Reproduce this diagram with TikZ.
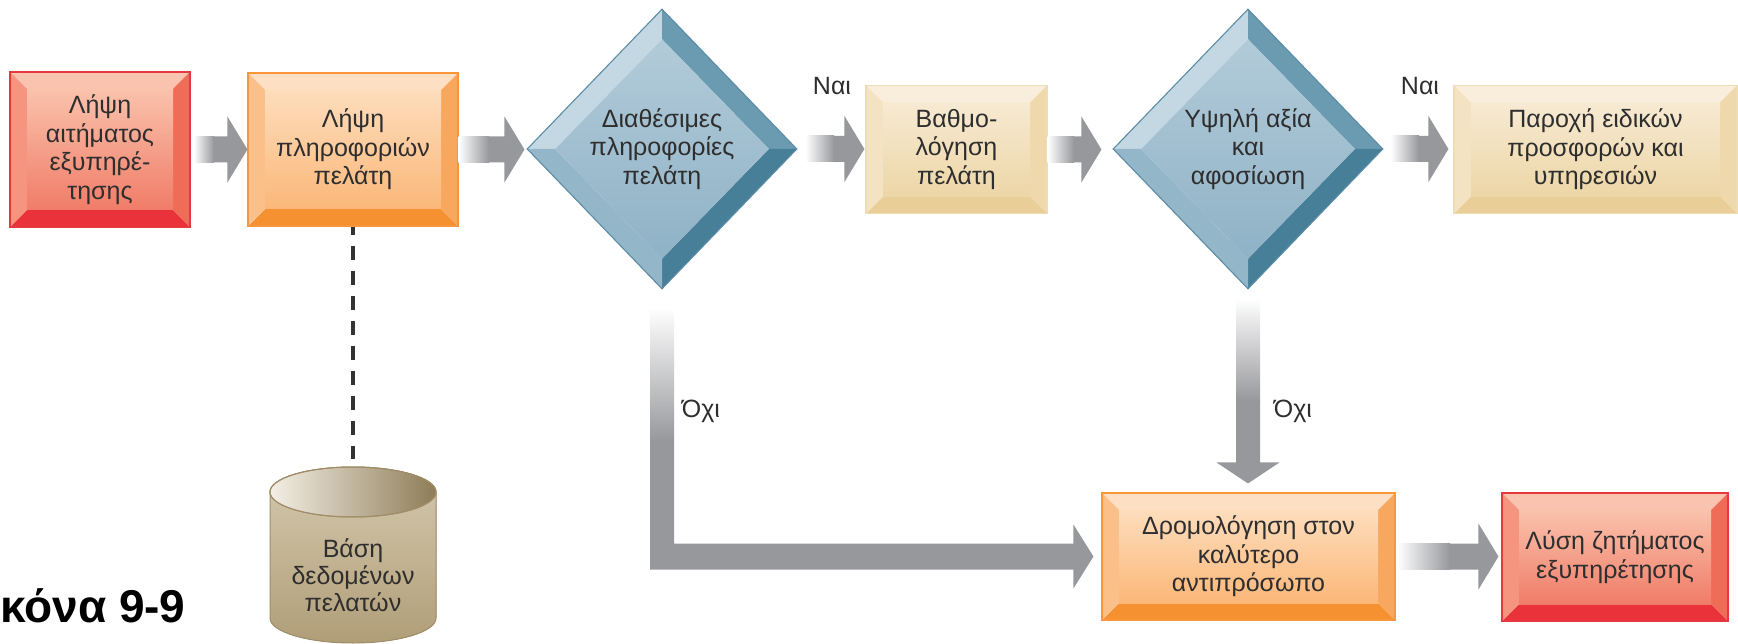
\documentclass[tikz,border=0pt]{standalone}
\usepackage{fontspec}
\setmainfont{Liberation Sans}
\usetikzlibrary{shapes.geometric,calc}

\definecolor{txt}{HTML}{2E2E2E}
\definecolor{agray}{HTML}{97989C}
\definecolor{dashc}{HTML}{333333}
% red palette
\definecolor{palRtop}{HTML}{F9C3AF}
\definecolor{palRbot}{HTML}{E9323A}
\definecolor{palRleft}{HTML}{F5957F}
\definecolor{palRright}{HTML}{EF6C57}
\definecolor{palRft}{HTML}{FAC2AC}
\definecolor{palRfb}{HTML}{F07C68}
\definecolor{palRbd}{HTML}{E8383F}
% orange palette
\definecolor{palOtop}{HTML}{FDE0C4}
\definecolor{palObot}{HTML}{F59131}
\definecolor{palOleft}{HTML}{FBC08A}
\definecolor{palOright}{HTML}{F8A75E}
\definecolor{palOft}{HTML}{FDDDBC}
\definecolor{palOfb}{HTML}{FBB779}
\definecolor{palObd}{HTML}{F7963B}
% tan palette
\definecolor{palTtop}{HTML}{F8EEDB}
\definecolor{palTbot}{HTML}{E9CF97}
\definecolor{palTleft}{HTML}{F3E3C2}
\definecolor{palTright}{HTML}{EFD9AC}
\definecolor{palTft}{HTML}{F7EAD3}
\definecolor{palTfb}{HTML}{EDD6A6}
\definecolor{palTbd}{HTML}{EEDCB5}
% diamond palette
\definecolor{dTL}{HTML}{C4D8E3}
\definecolor{dBL}{HTML}{93B6C9}
\definecolor{dTR}{HTML}{6B9BB1}
\definecolor{dBR}{HTML}{487F98}
\definecolor{dFT}{HTML}{B2CBD9}
\definecolor{dFB}{HTML}{8FB2C6}
\definecolor{dBD}{HTML}{5B8CA5}
% cylinder
\definecolor{cylL}{HTML}{F3EFE6}
\definecolor{cylR}{HTML}{8E7C56}
\definecolor{cylT}{HTML}{D5C9AE}
\definecolor{cylB}{HTML}{B09E78}
\definecolor{cylBd}{HTML}{A08D68}

\newcommand{\boxfont}{\fontsize{25pt}{28.5pt}\selectfont}

% horizontal block arrow: from node, to node, start gap, tip gap, fade length
\newcommand{\harr}[5]{%
  \path (#1.east) coordinate (hs) (#2.west) coordinate (ht);
  \shade[left color=white, right color=agray] let \p1=(hs), \p2=(ht) in
    (\x1+#3,\y1-13pt) rectangle (\x1+#3+#5+0.6pt,\y1+13pt);
  \fill[agray] let \p1=(hs), \p2=(ht) in
    (\x1+#3+#5,\y1-13pt) -- (\x2-#4-20pt,\y1-13pt) -- (\x2-#4-20pt,\y1-33pt)
    -- (\x2-#4,\y1) -- (\x2-#4-20pt,\y1+33pt) -- (\x2-#4-20pt,\y1+13pt)
    -- (\x1+#3+#5,\y1+13pt) -- cycle;
}

\tikzset{
  pal/.store in=\pal, pal=palR,
  bevbox/.style={rectangle, inner sep=0pt, align=center, font=\boxfont, text=txt,
    draw=\pal bd, line width=1.1pt,
    path picture={
      \path (path picture bounding box.north west) coordinate (pNW)
            (path picture bounding box.north east) coordinate (pNE)
            (path picture bounding box.south west) coordinate (pSW)
            (path picture bounding box.south east) coordinate (pSE);
      \path ([xshift=17pt,yshift=-17pt]pNW) coordinate (iNW)
            ([xshift=-17pt,yshift=-17pt]pNE) coordinate (iNE)
            ([xshift=17pt,yshift=17pt]pSW) coordinate (iSW)
            ([xshift=-17pt,yshift=17pt]pSE) coordinate (iSE);
      \fill[fill=\pal top] (pNW) -- (pNE) -- (iNE) -- (iNW) -- cycle;
      \fill[fill=\pal bot] (pSW) -- (pSE) -- (iSE) -- (iSW) -- cycle;
      \fill[fill=\pal left] (pNW) -- (pSW) -- (iSW) -- (iNW) -- cycle;
      \fill[fill=\pal right] (pNE) -- (pSE) -- (iSE) -- (iNE) -- cycle;
      \shade[top color=\pal ft, bottom color=\pal fb] (iNW) rectangle (iSE);
    }},
  decision/.style={diamond, inner sep=0pt, align=center, font=\boxfont, text=txt,
    minimum width=270pt, minimum height=280pt, draw=dBD, line width=1.1pt,
    path picture={
      \path (path picture bounding box.west) coordinate (dW)
            (path picture bounding box.north) coordinate (dN)
            (path picture bounding box.east) coordinate (dE)
            (path picture bounding box.south) coordinate (dS);
      \path ([xshift=28pt]dW) coordinate (jW)
            ([yshift=-30pt]dN) coordinate (jN)
            ([xshift=-28pt]dE) coordinate (jE)
            ([yshift=30pt]dS) coordinate (jS);
      \fill[dTL] (dW) -- (dN) -- (jN) -- (jW) -- cycle;
      \fill[dTR] (dN) -- (dE) -- (jE) -- (jN) -- cycle;
      \fill[dBR] (dE) -- (dS) -- (jS) -- (jE) -- cycle;
      \fill[dBL] (dS) -- (dW) -- (jW) -- (jS) -- cycle;
      \shade[top color=dFT, bottom color=dFB] (jW) -- (jN) -- (jE) -- (jS) -- cycle;
    }},
  lbl/.style={inner sep=0pt, font=\boxfont, text=txt},
  dashline/.style={draw=dashc, line width=3.2pt, dash pattern=on 14pt off 11pt, dash phase=6pt},
}

\begin{document}
\begin{tikzpicture}[x=1pt, y=-1pt]
\useasboundingbox (0,0) rectangle (1738,644);

% top row
\node[bevbox, pal=palR, minimum width=180pt, minimum height=155pt] (n1) at (100,149.5)
  {Λήψη\\αιτήματος\\εξυπηρέ-\\τησης};
\node[bevbox, pal=palO, minimum width=210pt, minimum height=153pt] (n2) at (353,149.5)
  {Λήψη\\πληροφοριών\\πελάτη};
\node[decision] (d1) at (662,149) {Διαθέσιμες\\πληροφορίες\\πελάτη};
\node[bevbox, pal=palT, minimum width=181pt, minimum height=128pt] (n3) at (956.5,149.5)
  {Βαθμο-\\λόγηση\\πελάτη};
\node[decision] (d2) at (1248,149) {Υψηλή αξία\\και\\αφοσίωση};
\node[bevbox, pal=palT, minimum width=283pt, minimum height=128pt] (n4) at (1595.5,149.5)
  {Παροχή ειδικών\\προσφορών και\\υπηρεσιών};

% bottom row
\node[bevbox, pal=palO, minimum width=293pt, minimum height=127pt] (n5) at (1248.5,556.5)
  {Δρομολόγηση στον\\καλύτερο\\αντιπρόσωπο};
\node[bevbox, pal=palR, minimum width=226pt, minimum height=128pt] (n6) at (1615,557)
  {Λύση ζητήματος\\εξυπηρέτησης};

% database cylinder
\fill[top color=cylT, bottom color=cylB, draw=cylBd, line width=1pt]
  (270,492) -- (270,618) arc (180:360:83pt and 25pt) -- (436,492) arc (0:180:83pt and 25pt) -- cycle;
\shade[left color=cylL, right color=cylR, draw=cylBd, line width=1pt]
  (353,492) ellipse (83pt and 25pt);
\draw[cylBd, line width=1pt] (353,492) ellipse (83pt and 25pt);
\node[inner sep=0pt, align=center, text=txt, font=\fontsize{25pt}{27pt}\selectfont] (db) at (353,575)
  {Βάση\\δεδομένων\\πελατών};
\coordinate (dbtop) at (353,459);
\draw[dashline] (n2.south) -- (dbtop);

% horizontal arrows
\harr{n1}{n2}{3pt}{0pt}{20pt}
\harr{n2}{d1}{0pt}{2pt}{30pt}
\harr{d1}{n3}{8pt}{1pt}{28pt}
\harr{n3}{d2}{0pt}{11pt}{26pt}
\harr{d2}{n4}{7pt}{5pt}{28pt}
\harr{n5}{n6}{2pt}{3pt}{52pt}

% L-shaped arrow from d1 to n5
\path (d1.south) coordinate (a7s) (n5.west) coordinate (a7t);
\shade[top color=white, bottom color=agray] let \p1=(a7s) in
  (\x1-12pt,\y1-18pt) rectangle (\x1+12pt,\y1-151.6pt);
\fill[agray] let \p1=(a7s), \p2=(a7t) in
  (\x1-12pt,\y1-151pt) -- (\x1-12pt,\y2-13pt) -- (\x2-28pt,\y2-13pt) -- (\x2-28pt,\y2-32pt)
  -- (\x2-8pt,\y2) -- (\x2-28pt,\y2+32pt) -- (\x2-28pt,\y2+13pt) -- (\x1+12pt,\y2+13pt)
  -- (\x1+12pt,\y1-151pt) -- cycle;

% vertical arrow from d2 to n5
\path (d2.south) coordinate (a8s) (n5.north) coordinate (a8t);
\shade[top color=white, bottom color=agray] let \p1=(a8s) in
  (\x1-12pt,\y1-9pt) rectangle (\x1+12pt,\y1-111.6pt);
\fill[agray] let \p1=(a8s), \p2=(a8t) in
  (\x1-12pt,\y1-111pt) -- (\x1-12pt,\y2+30pt) -- (\x1-31.5pt,\y2+30pt) -- (\x1,\y2+9pt)
  -- (\x1+31.5pt,\y2+30pt) -- (\x1+12pt,\y2+30pt) -- (\x1+12pt,\y1-111pt) -- cycle;

% labels
\node[lbl] (yes1) at (832,86) {Ναι};
\node[lbl] (yes2) at (1420,86) {Ναι};
\node[lbl] (no1) at (701,411.5) {Όχι};
\node[lbl] (no2) at (1293,411.5) {Όχι};

% figure caption (cut at the left edge)
\node[inner sep=0pt, anchor=base west, font=\fontsize{46pt}{50pt}\selectfont\bfseries] (cap) at (0,622) {κόνα 9-9};
\end{tikzpicture}
\end{document}
